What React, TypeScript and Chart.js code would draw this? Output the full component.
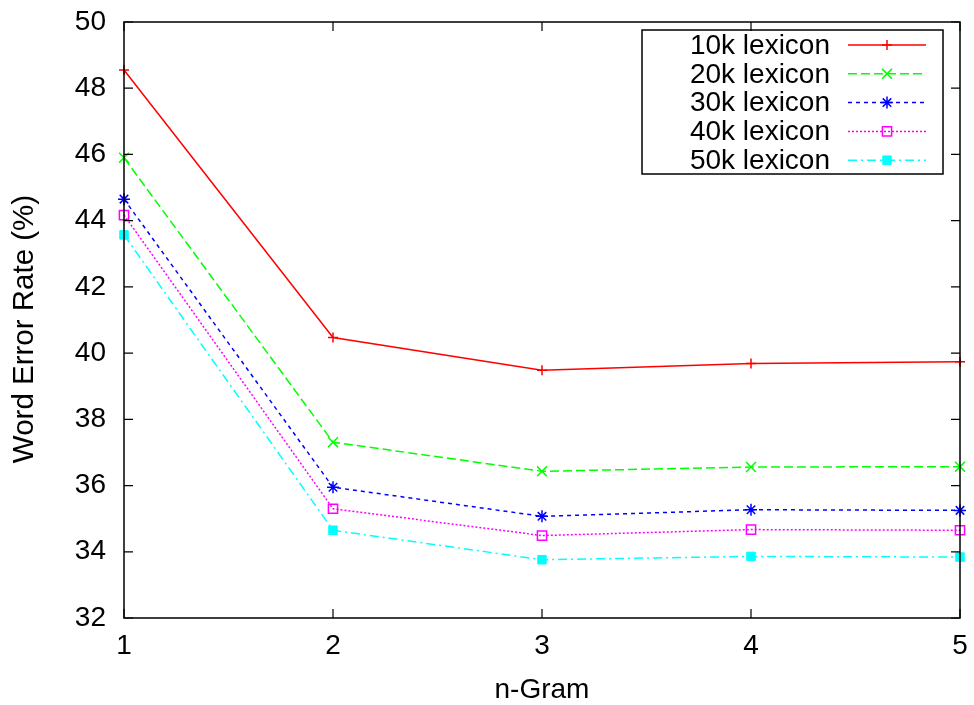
import React, { useEffect, useRef } from 'react';
import { Chart, registerables } from 'chart.js';
import { drawPoint } from 'chart.js/helpers';

Chart.register(...registerables);

// ---- data ----
const nGrams = [1, 2, 3, 4, 5];
const lex10k = [48.55, 40.47, 39.48, 39.69, 39.74];
const lex20k = [45.9, 37.31, 36.43, 36.56, 36.57];
const lex30k = [44.65, 35.95, 35.07, 35.27, 35.25];
const lex40k = [44.17, 35.3, 34.49, 34.67, 34.65];
const lex50k = [43.57, 34.65, 33.76, 33.86, 33.84];
const seriesLabels = ['10k lexicon', '20k lexicon', '30k lexicon', '40k lexicon', '50k lexicon'];
const yMin = 32;
const yMax = 50;
const yStep = 2;
const xTitle = 'n-Gram';
const yTitle = 'Word Error Rate (%)';

const FONT = '"Liberation Sans", Arial, Helvetica, sans-serif';
const FS = 28;

const styles = [
  { color: '#ff0000', dash: [] as number[], pointStyle: 'cross', radius: 5, bg: '#ff0000', bw: 1.5 },
  { color: '#00ff00', dash: [9, 4], pointStyle: 'crossRot', radius: 7, bg: '#00ff00', bw: 1.5 },
  { color: '#0000ff', dash: [4, 4], pointStyle: 'star', radius: 6, bg: '#0000ff', bw: 1.5 },
  { color: '#ff00ff', dash: [2, 2], pointStyle: 'rect', radius: 6.5, bg: 'rgba(0,0,0,0)', bw: 1.5 },
  { color: '#00ffff', dash: [9, 4, 2, 4], pointStyle: 'rect', radius: 6, bg: '#00ffff', bw: 1 },
];

const seriesValues = [lex10k, lex20k, lex30k, lex40k, lex50k];

const framePlugin = {
  id: 'gnuplotFrame',
  afterDatasetsDraw(chart: any) {
    const { ctx, chartArea } = chart;
    const { left, right, top, bottom } = chartArea;
    const xs = chart.scales.x;
    const ys = chart.scales.y;
    ctx.save();
    ctx.strokeStyle = '#000';
    ctx.lineWidth = 1.5;
    ctx.setLineDash([]);
    ctx.strokeRect(left, top, right - left, bottom - top);
    const tl = 9;
    ctx.lineWidth = 1.2;
    ctx.beginPath();
    for (let v = yMin; v <= yMax; v += yStep) {
      const py = ys.getPixelForValue(v);
      ctx.moveTo(left, py);
      ctx.lineTo(left + tl, py);
      ctx.moveTo(right, py);
      ctx.lineTo(right - tl, py);
    }
    nGrams.forEach((n) => {
      const px = xs.getPixelForValue(n);
      ctx.moveTo(px, bottom);
      ctx.lineTo(px, bottom - tl);
      ctx.moveTo(px, top);
      ctx.lineTo(px, top + tl);
    });
    ctx.stroke();

    // axis titles
    ctx.fillStyle = '#000';
    ctx.font = `${FS}px ${FONT}`;
    ctx.textAlign = 'center';
    ctx.textBaseline = 'middle';
    ctx.fillText(xTitle, (left + right) / 2, 690);
    ctx.save();
    ctx.font = `29.5px ${FONT}`;
    ctx.translate(25, 329);
    ctx.rotate(-Math.PI / 2);
    ctx.fillText(yTitle, 0, 0);
    ctx.restore();

    // legend
    ctx.font = `${FS}px ${FONT}`;
    const bx = 642, by = 30, bw = 301, bh = 144;
    ctx.lineWidth = 1.5;
    ctx.strokeRect(bx, by, bw, bh);
    chart.data.datasets.forEach((ds: any, i: number) => {
      const ry = 45 + i * 28.8;
      ctx.fillStyle = '#000';
      ctx.textAlign = 'right';
      ctx.textBaseline = 'middle';
      ctx.fillText(ds.label, 830, ry + 1);
      ctx.strokeStyle = ds.borderColor;
      ctx.lineWidth = ds.borderWidth;
      ctx.setLineDash(ds.borderDash || []);
      ctx.beginPath();
      ctx.moveTo(848, ry);
      ctx.lineTo(926, ry);
      ctx.stroke();
      ctx.setLineDash([]);
      ctx.fillStyle = ds.pointBackgroundColor;
      ctx.strokeStyle = ds.pointBorderColor;
      ctx.lineWidth = ds.pointBorderWidth;
      drawPoint(ctx, { pointStyle: ds.pointStyle, radius: ds.pointRadius, rotation: 0, borderWidth: ds.pointBorderWidth }, 887, ry);
    });
    ctx.restore();
  },
};

export default function App() {
  const ref = useRef<HTMLCanvasElement | null>(null);
  useEffect(() => {
    document.body.style.margin = '0';
    const canvas = ref.current;
    if (!canvas) return;
    const chart = new Chart(canvas, {
      type: 'line',
      data: {
        datasets: seriesValues.map((vals, i) => ({
          label: seriesLabels[i],
          data: vals.map((v, j) => ({ x: nGrams[j], y: v })),
          borderColor: styles[i].color,
          borderWidth: 1.5,
          borderDash: styles[i].dash,
          pointStyle: styles[i].pointStyle as any,
          pointRadius: styles[i].radius,
          pointBackgroundColor: styles[i].bg,
          pointBorderColor: styles[i].color,
          pointBorderWidth: styles[i].bw,
          tension: 0,
          fill: false,
          clip: false as any,
        })),
      },
      options: {
        responsive: false,
        animation: false,
        devicePixelRatio: 1,
        events: [],
        layout: { padding: { top: 22, right: 14, left: 0, bottom: 0 } },
        plugins: { legend: { display: false }, tooltip: { enabled: false }, title: { display: false } },
        scales: {
          x: {
            type: 'linear',
            min: nGrams[0],
            max: nGrams[nGrams.length - 1],
            grid: { display: false, drawTicks: false },
            border: { display: false },
            ticks: { stepSize: 1, padding: 11, color: '#000', font: { family: FONT, size: FS } },
            afterFit: (s: any) => { s.height = 87; s.paddingLeft = 0; s.paddingRight = 0; },
          },
          y: {
            type: 'linear',
            min: yMin,
            max: yMax,
            grid: { display: false, drawTicks: false },
            border: { display: false },
            ticks: { stepSize: yStep, padding: 18, color: '#000', font: { family: FONT, size: FS } },
            afterFit: (s: any) => { s.width = 124; s.paddingTop = 0; s.paddingBottom = 0; },
          },
        },
      },
      plugins: [framePlugin],
    });
    return () => chart.destroy();
  }, []);
  return <canvas ref={ref} width={974} height={705} style={{ display: 'block' }} />;
}
